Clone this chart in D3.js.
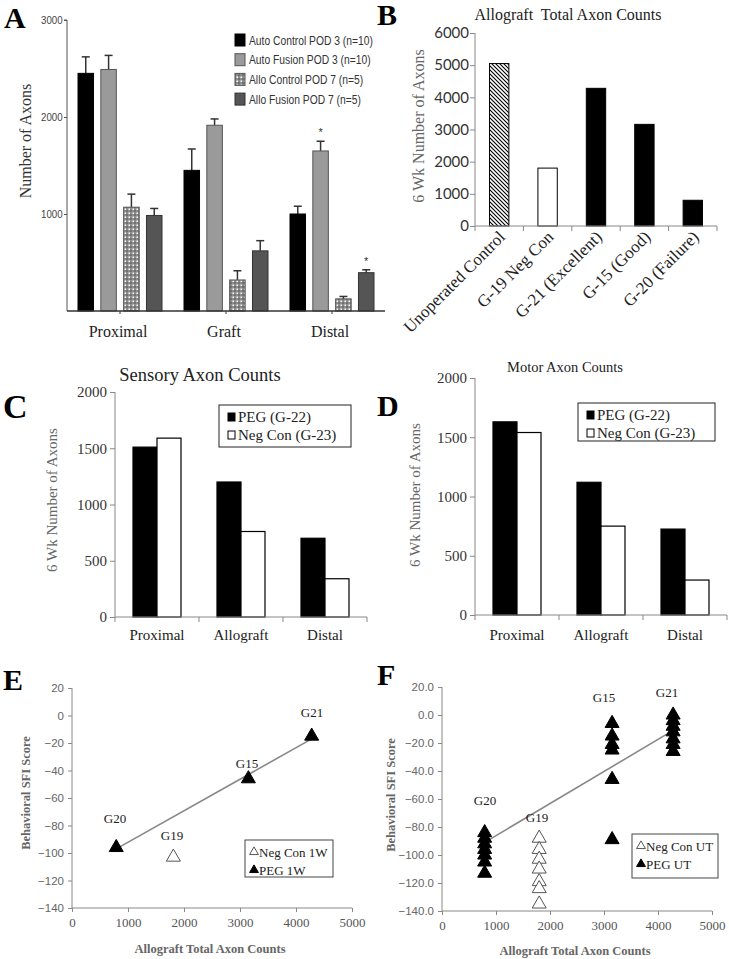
<!DOCTYPE html>
<html><head><meta charset="utf-8">
<script src="https://cdn.jsdelivr.net/npm/d3@7"></script>
<style>body{margin:0;background:#fff}svg{display:block}</style>
</head><body>
<script>
// ---------- DATA ----------
// Panel A
const groupsA = ["Proximal", "Graft", "Distal"];
const seriesA = ["Auto Control POD 3 (n=10)", "Auto Fusion POD 3 (n=10)", "Allo Control POD 7 (n=5)", "Allo Fusion POD 7 (n=5)"];
const autoControlA = [2450, 1450, 1000];
const autoFusionA = [2490, 1915, 1650];
const alloControlA = [1070, 320, 125];
const alloFusionA = [985, 620, 395];
const autoControlErrA = [170, 220, 80];
const autoFusionErrA = [145, 65, 100];
const alloControlErrA = [135, 95, 25];
const alloFusionErrA = [72, 105, 30];
const starsA = [["Distal", 1], ["Distal", 3]];
const ticksA = [1000, 2000, 3000];
// Panel B
const catsB = ["Unoperated Control", "G-19 Neg Con", "G-21 (Excellent)", "G-15 (Good)", "G-20 (Failure)"];
const valuesB = [5050, 1800, 4280, 3160, 800];
const ticksB = [0, 1000, 2000, 3000, 4000, 5000, 6000];
// Panels C & D
const groupsCD = ["Proximal", "Allograft", "Distal"];
const seriesCD = ["PEG (G-22)", "Neg Con (G-23)"];
const sensoryPEG = [1510, 1200, 700];
const sensoryNeg = [1590, 760, 340];
const motorPEG = [1630, 1120, 725];
const motorNeg = [1540, 750, 295];
const ticksCD = [0, 500, 1000, 1500, 2000];
// Panel E
const namesE = ["G20", "G19", "G15", "G21"];
const xE = [790, 1810, 3150, 4280];
const yE = [-96, -103, -46, -15];
const typeE = ["PEG", "Neg", "PEG", "PEG"];
const trendEX = [790, 4280];
const trendEY = [-97, -17];
const ticksEY = [20, 0, -20, -40, -60, -80, -100, -120, -140];
const ticksX = [0, 1000, 2000, 3000, 4000, 5000];
// Panel F
const namesF = ["G20", "G19", "G15", "G21"];
const xF = [790, 1800, 3150, 4280];
const typeF = ["PEG", "Neg", "PEG", "PEG"];
const g20F = [-84, -88, -92, -96, -100, -105, -113];
const g19F = [-88, -96, -103, -110, -119, -124, -135];
const g15F = [-6, -15, -21, -25, -46, -89];
const g21F = [0, -4, -8, -12, -17, -21, -26];
const trendFX = [790, 4280];
const trendFY = [-91, -11];
const ticksFY = [20, 0, -20, -40, -60, -80, -100, -120, -140];

// ---------- SETUP ----------
const SERIF = "'Liberation Serif','Times New Roman',serif";
const SANS = "'Liberation Sans',Arial,sans-serif";
const AXG = "#888";

const svg = d3.select("body").append("svg").attr("width", 729).attr("height", 959);
const defs = svg.append("defs");
const dots = defs.append("pattern").attr("id", "dotsA").attr("patternUnits", "userSpaceOnUse").attr("width", 4).attr("height", 4);
dots.append("rect").attr("width", 4).attr("height", 4).attr("fill", "#8c8c8c");
dots.append("rect").attr("x", 0.5).attr("y", 0.5).attr("width", 1.5).attr("height", 1.5).attr("fill", "#fff");
dots.append("rect").attr("x", 2.5).attr("y", 2.5).attr("width", 1).attr("height", 1).attr("fill", "#222");
const hatch = defs.append("pattern").attr("id", "hatchB").attr("patternUnits", "userSpaceOnUse").attr("width", 4).attr("height", 4);
hatch.append("rect").attr("width", 4).attr("height", 4).attr("fill", "#fff");
hatch.append("path").attr("d", "M-1,-1L5,5M3,-1L5,1M-1,3L1,5").attr("stroke", "#000").attr("stroke-width", 1.1);

function letter(t, x, y, size) {
  svg.append("text").attr("x", x).attr("y", y).text(t)
    .attr("font-family", SERIF).attr("font-weight", "bold").attr("font-size", size).attr("fill", "#000");
}
function vlabel(t, x, y, size, fill, weight) {
  svg.append("text").attr("transform", `translate(${x},${y}) rotate(-90)`).attr("text-anchor", "middle")
    .attr("dominant-baseline", "middle").text(t).attr("font-family", SERIF).attr("font-size", size)
    .attr("fill", fill).attr("font-weight", weight || "normal");
}

// ---------- PANEL A ----------
{
  const xA0 = d3.scaleBand().domain(groupsA).range([67, 385]);
  const xA1 = d3.scaleBand().domain(seriesA).range([11, 95]).paddingInner(0.32);
  const yA = d3.scaleLinear().domain([0, 3000]).range([311, 20]);
  const vals = [autoControlA, autoFusionA, alloControlA, alloFusionA];
  const errs = [autoControlErrA, autoFusionErrA, alloControlErrA, alloFusionErrA];
  const fills = ["#000", "#9a9a9a", "url(#dotsA)", "#555"];
  const strokes = ["#000", "#555", "#555", "#333"];
  const g = svg.append("g");
  seriesA.forEach((s, si) => {
    groupsA.forEach((grp, gi) => {
      const v = vals[si][gi], e = errs[si][gi];
      const x = xA0(grp) + xA1(s), w = xA1.bandwidth(), cx = x + w / 2;
      g.append("line").attr("x1", cx).attr("x2", cx).attr("y1", yA(v)).attr("y2", yA(v + e)).attr("stroke", "#333").attr("stroke-width", 1.5);
      g.append("line").attr("x1", cx - 4).attr("x2", cx + 4).attr("y1", yA(v + e)).attr("y2", yA(v + e)).attr("stroke", "#333").attr("stroke-width", 1.5);
      g.append("rect").attr("x", x).attr("y", yA(v)).attr("width", w).attr("height", yA(0) - yA(v))
        .attr("fill", fills[si]).attr("stroke", strokes[si]).attr("stroke-width", 1);
    });
  });
  starsA.forEach(([grp, si]) => {
    const gi = groupsA.indexOf(grp);
    const v = vals[si][gi] + errs[si][gi];
    g.append("text").attr("x", xA0(grp) + xA1(seriesA[si]) + xA1.bandwidth() / 2).attr("y", yA(v) - 5)
      .attr("text-anchor", "middle").attr("font-family", SANS).attr("font-size", 11).attr("fill", "#333").text("*");
  });
  const ax = svg.append("g").attr("transform", "translate(67,0)")
    .call(d3.axisLeft(yA).tickValues(ticksA).tickSize(3).tickFormat(d3.format("d")));
  ax.select(".domain").attr("stroke", "#555").attr("d", `M-3,${yA(3000)}H0V${yA(0)}`);
  ax.selectAll(".tick line").attr("stroke", "#555");
  ax.selectAll("text").attr("font-family", SANS).attr("font-size", 11).attr("fill", "#444").attr("x", -5)
    .attr("transform", "scale(0.88,1)");
  // x axis
  svg.append("line").attr("x1", 67).attr("x2", 385).attr("y1", yA(0)).attr("y2", yA(0)).attr("stroke", "#333").attr("stroke-width", 1.5);
  groupsA.forEach(grp => {
    const cx = xA0(grp) + xA0.bandwidth() / 2;
    svg.append("line").attr("x1", cx).attr("x2", cx).attr("y1", yA(0)).attr("y2", yA(0) + 3).attr("stroke", "#333");
    svg.append("text").attr("x", cx - 2).attr("y", 337).attr("text-anchor", "middle").attr("font-family", SERIF)
      .attr("font-size", 16).attr("fill", "#222").text(grp);
  });
  vlabel("Number of Axons", 27, 141, 16, "#333");
  // legend (condensed sans text)
  let factor = null;
  seriesA.forEach((s, si) => {
    const y = 40 + si * 19.7;
    svg.append("rect").attr("x", 235).attr("y", y - 6).attr("width", 10).attr("height", 12)
      .attr("fill", fills[si]).attr("stroke", strokes[si]);
    const t = svg.append("text").attr("x", 0).attr("y", 0).attr("font-family", SANS).attr("font-size", 13)
      .attr("fill", "#333").text(s);
    if (factor === null) factor = 124 / t.node().getComputedTextLength();
    t.attr("transform", `translate(249,${y + 4.5}) scale(${factor},1)`);
  });
  letter("A", 4, 28, 30);
}

// ---------- PANEL B ----------
{
  const xB = d3.scaleBand().domain(catsB).range([475, 717]).paddingInner(0.6).paddingOuter(0.3);
  const yB = d3.scaleLinear().domain([0, 6000]).range([226, 33]);
  const fills = ["url(#hatchB)", "#fff", "#000", "#000", "#000"];
  catsB.forEach((c, i) => {
    svg.append("rect").attr("x", xB(c)).attr("y", yB(valuesB[i])).attr("width", xB.bandwidth())
      .attr("height", yB(0) - yB(valuesB[i])).attr("fill", fills[i]).attr("stroke", "#000").attr("stroke-width", 1);
  });
  const ax = svg.append("g").attr("transform", "translate(475,0)")
    .call(d3.axisLeft(yB).tickValues(ticksB).tickSize(5).tickFormat(d3.format("d")));
  ax.select(".domain").attr("stroke", AXG).attr("d", `M0,${yB(6000)}V${yB(0)}`);
  ax.selectAll(".tick line").attr("stroke", AXG);
  ax.selectAll("text").attr("font-family", "Lato,'Open Sans',sans-serif").attr("font-size", 15).attr("fill", "#333").attr("x", -6);
  svg.append("line").attr("x1", 475).attr("x2", 717).attr("y1", yB(0)).attr("y2", yB(0)).attr("stroke", AXG);
  const step = xB.step();
  catsB.forEach((c, i) => {
    const bx = 475 + i * step;
    svg.append("line").attr("x1", bx).attr("x2", bx).attr("y1", yB(0)).attr("y2", yB(0) + 5).attr("stroke", AXG);
    const cx = xB(c) + xB.bandwidth() / 2 + 7;
    svg.append("text").attr("transform", `translate(${cx},${yB(0) + 12}) rotate(-45)`).attr("text-anchor", "end")
      .attr("font-family", SERIF).attr("font-size", 17).attr("fill", "#222").text(c);
  });
  svg.append("line").attr("x1", 717).attr("x2", 717).attr("y1", yB(0)).attr("y2", yB(0) + 5).attr("stroke", AXG);
  svg.append("text").attr("x", 568).attr("y", 20).attr("text-anchor", "middle").attr("font-family", SERIF)
    .attr("font-size", 16).attr("fill", "#222").attr("xml:space", "preserve").text("Allograft  Total Axon Counts");
  vlabel("6 Wk Number of Axons", 420, 126, 16, "#666");
  letter("B", 377, 25, 30);
}

// ---------- PANELS C & D ----------
function groupedPanel(x0r, y0, yTop, pegVals, negVals, title, titleX, titleY, titleSize, legBox, ylabX, ylabY) {
  const x0 = d3.scaleBand().domain(groupsCD).range(x0r);
  const x1 = d3.scaleBand().domain(seriesCD).range([0, x0.bandwidth()]).paddingOuter(0.75);
  const y = d3.scaleLinear().domain([0, 2000]).range([y0, yTop]);
  const vals = [pegVals, negVals];
  const fills = ["#000", "#fff"];
  seriesCD.forEach((s, si) => {
    groupsCD.forEach((grp, gi) => {
      const v = vals[si][gi];
      svg.append("rect").attr("x", x0(grp) + x1(s)).attr("y", y(v)).attr("width", x1.bandwidth())
        .attr("height", y(0) - y(v)).attr("fill", fills[si]).attr("stroke", "#000").attr("stroke-width", 1.2);
    });
  });
  const ax = svg.append("g").attr("transform", `translate(${x0r[0]},0)`)
    .call(d3.axisLeft(y).tickValues(ticksCD).tickSize(5).tickFormat(d3.format("d")));
  ax.select(".domain").attr("stroke", AXG).attr("d", `M0,${y(2000)}V${y(0)}`);
  ax.selectAll(".tick line").attr("stroke", AXG);
  ax.selectAll("text").attr("font-family", SERIF).attr("font-size", 15).attr("fill", "#333").attr("x", -8);
  svg.append("line").attr("x1", x0r[0]).attr("x2", x0r[1]).attr("y1", y(0)).attr("y2", y(0)).attr("stroke", AXG);
  groupsCD.forEach((grp, gi) => {
    const bx = x0(grp);
    svg.append("line").attr("x1", bx + x0.bandwidth()).attr("x2", bx + x0.bandwidth()).attr("y1", y(0)).attr("y2", y(0) + 5).attr("stroke", AXG);
    if (gi === 0) svg.append("line").attr("x1", bx).attr("x2", bx).attr("y1", y(0)).attr("y2", y(0) + 5).attr("stroke", AXG);
    svg.append("text").attr("x", bx + x0.bandwidth() / 2).attr("y", 640).attr("text-anchor", "middle")
      .attr("font-family", SERIF).attr("font-size", 15).attr("fill", "#222").text(grp);
  });
  svg.append("text").attr("x", titleX).attr("y", titleY).attr("text-anchor", "middle").attr("font-family", SERIF)
    .attr("font-size", titleSize).attr("fill", "#222").text(title);
  // legend
  const [lx, ly, lw, lh] = legBox;
  svg.append("rect").attr("x", lx).attr("y", ly).attr("width", lw).attr("height", lh).attr("fill", "#fff").attr("stroke", "#222");
  seriesCD.forEach((s, si) => {
    const ry = ly + 12 + si * 18;
    svg.append("rect").attr("x", lx + 9).attr("y", ry - 4).attr("width", 7).attr("height", 8).attr("fill", fills[si]).attr("stroke", "#000");
    svg.append("text").attr("x", lx + 19).attr("y", ry + 5).attr("font-family", SERIF).attr("font-size", 15).attr("fill", "#222").text(s);
  });
  vlabel("6 Wk Number of Axons", ylabX, ylabY, 15, "#666");
}
groupedPanel([115, 367], 617, 392, sensoryPEG, sensoryNeg, "Sensory Axon Counts", 200, 381, 18.5, [219, 405, 132, 42], 54, 500);
groupedPanel([475, 727], 615, 378, motorPEG, motorNeg, "Motor Axon Counts", 565, 372, 14.5, [578, 403, 137, 38], 417, 495);
letter("C", 3, 418, 34);
letter("D", 377, 416, 30);

// ---------- PANELS E & F ----------
function scatterPanel(xr, yr, yTicks, fmt, groups, trendX, trendY, names, labelPos, legBox, legTexts, xTitleY, yTitleX, yTitleY) {
  const x = d3.scaleLinear().domain([0, 5000]).range(xr);
  const y = d3.scaleLinear().domain([-140, 20]).range(yr);
  const ax = svg.append("g").attr("transform", `translate(${xr[0]},0)`)
    .call(d3.axisLeft(y).tickValues(yTicks).tickSize(4).tickFormat(fmt));
  ax.select(".domain").attr("stroke", AXG).attr("d", `M0,${y(20)}V${y(-140)}`);
  ax.selectAll(".tick line").attr("stroke", AXG);
  ax.selectAll("text").attr("font-family", SANS).attr("font-size", 11.5).attr("fill", "#666").attr("x", -8);
  const bx = svg.append("g").attr("transform", `translate(0,${yr[0]})`)
    .call(d3.axisBottom(x).tickValues(ticksX).tickSize(4).tickFormat(d3.format("d")));
  bx.select(".domain").attr("stroke", AXG).attr("d", `M${xr[0]},0H${xr[1]}`);
  bx.selectAll(".tick line").attr("stroke", AXG);
  bx.selectAll("text").attr("font-family", SERIF).attr("font-size", 13).attr("fill", "#555").attr("y", 10);
  svg.append("line").attr("x1", x(trendX[0])).attr("x2", x(trendX[1])).attr("y1", y(trendY[0])).attr("y2", y(trendY[1]))
    .attr("stroke", "#888").attr("stroke-width", 1.6);
  const sym = d3.symbol().type(d3.symbolTriangle).size(85);
  groups.forEach(gr => {
    gr.ys.forEach(v => {
      svg.append("path").attr("d", sym()).attr("transform", `translate(${x(gr.x)},${y(v)})`)
        .attr("fill", gr.type === "PEG" ? "#000" : "#fff").attr("stroke", gr.type === "PEG" ? "#000" : "#555").attr("stroke-width", 1);
    });
  });
  names.forEach((n, i) => {
    svg.append("text").attr("x", labelPos[i][0]).attr("y", labelPos[i][1]).attr("text-anchor", "middle")
      .attr("font-family", SERIF).attr("font-size", 13).attr("fill", "#222").text(n);
  });
  const [lx, ly, lw, lh] = legBox;
  svg.append("rect").attr("x", lx).attr("y", ly).attr("width", lw).attr("height", lh).attr("fill", "#fff").attr("stroke", "#444");
  const small = d3.symbol().type(d3.symbolTriangle).size(34);
  legTexts.forEach((t, i) => {
    const ry = ly + 12 + i * 18;
    svg.append("path").attr("d", small()).attr("transform", `translate(${lx + 9},${ry})`)
      .attr("fill", i === 0 ? "#fff" : "#000").attr("stroke", i === 0 ? "#555" : "#000");
    svg.append("text").attr("x", lx + 14).attr("y", ry + 5).attr("font-family", SERIF).attr("font-size", 13).attr("fill", "#222").text(t);
  });
  svg.append("text").attr("x", (xr[0] + xr[1]) / 2 - 2).attr("y", xTitleY).attr("text-anchor", "middle").attr("font-family", SERIF)
    .attr("font-size", 12.5).attr("font-weight", "bold").attr("fill", "#666").text("Allograft Total Axon Counts");
  vlabel("Behavioral SFI Score", yTitleX, yTitleY, 12.5, "#666", "bold");
}
scatterPanel([72, 352], [908, 688], ticksEY, d3.format("d"),
  namesE.map((n, i) => ({x: xE[i], ys: [yE[i]], type: typeE[i]})),
  trendEX, trendEY, namesE, [[115, 823], [172, 840], [247, 768], [312, 717]],
  [245, 840, 88, 37], ["Neg Con 1W", "PEG 1W"], 953, 27, 793);
scatterPanel([442, 712], [911, 687], ticksFY, d3.format(".1f"),
  [{x: xF[0], ys: g20F, type: typeF[0]}, {x: xF[1], ys: g19F, type: typeF[1]}, {x: xF[2], ys: g15F, type: typeF[2]}, {x: xF[3], ys: g21F, type: typeF[3]}],
  trendFX, trendFY, namesF, [[485, 805], [537, 822], [604, 702], [667, 697]],
  [632, 834, 86, 44], ["Neg Con UT", "PEG UT"], 955, 392, 795);
letter("E", 3, 690, 30);
letter("F", 377, 685, 30);
</script>
</body></html>
